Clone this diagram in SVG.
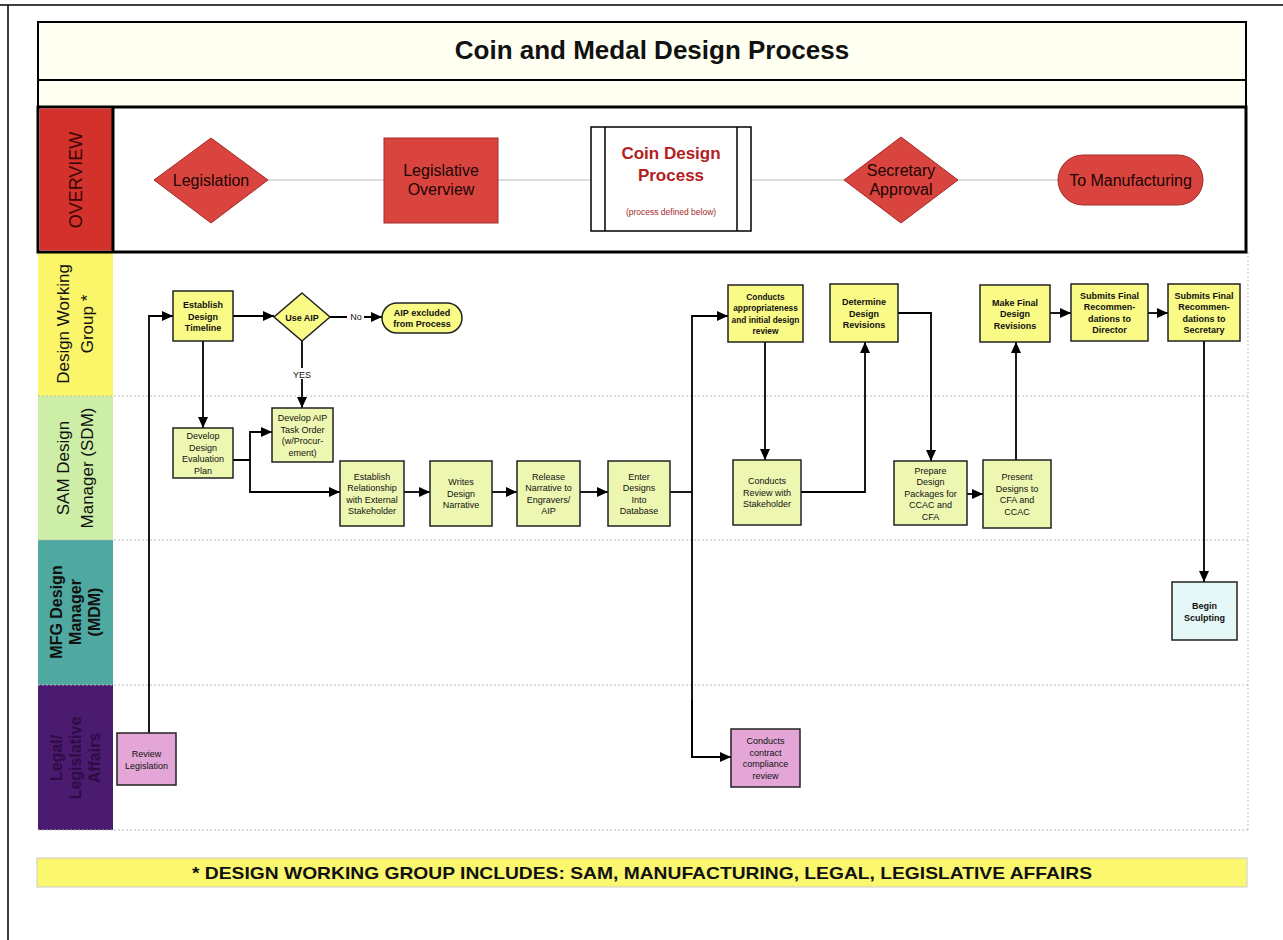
<svg xmlns="http://www.w3.org/2000/svg" width="1283" height="940" viewBox="0 0 1283 940">
<style>
text{font-family:"Liberation Sans",Arial,sans-serif;fill:#111}
.n{font-size:9px;text-anchor:middle}
.s{font-size:8.3px}
.b{font-weight:bold}
.ov{font-size:16px;text-anchor:middle;fill:#1a0505}
.lane{font-size:17px;text-anchor:middle}
.dwg{fill:#fafa86;stroke:#222;stroke-width:1.5}
.sdm{fill:#eef7b2;stroke:#222;stroke-width:1.5}
.pink{fill:#e3a6d6;stroke:#222;stroke-width:1.5}
.blue{fill:#e6f7f7;stroke:#222;stroke-width:1.5}
.red{fill:#d9443e;stroke:#a32a2a;stroke-width:1}
.sep{stroke:#bbb;stroke-width:1;stroke-dasharray:2 2;fill:none}
.c{stroke:#000;stroke-width:1.8;fill:none}
.ca{stroke:#000;stroke-width:1.8;fill:none;marker-end:url(#ah)}
</style>
<defs>
<marker id="ah" markerUnits="userSpaceOnUse" markerWidth="11" markerHeight="10" refX="11" refY="5" orient="auto"><path d="M0,0 L11,5 L0,10 z" fill="#000"/></marker>
</defs>
<rect width="1283" height="940" fill="#fff"/>
<g id="frame">
<line x1="0" y1="5" x2="1283" y2="5" stroke="#000" stroke-width="1.5"/>
<line x1="8" y1="5" x2="8" y2="940" stroke="#000" stroke-width="1.5"/>
</g>
<g id="title">
<rect x="38" y="22" width="1208" height="58" fill="#fffff2" stroke="#000" stroke-width="2"/>
<rect x="38" y="80" width="1208" height="27" fill="#fffff2" stroke="#000" stroke-width="2"/>
<text x="652" y="59" font-size="26" font-weight="bold" text-anchor="middle">Coin and Medal Design Process</text>
</g>
<g id="lanes">
<rect x="113" y="252" width="1135" height="578" fill="#fff"/>
<rect x="38" y="252" width="75" height="144" fill="#fbf56a"/>
<rect x="38" y="396" width="75" height="144" fill="#cdeea6"/>
<rect x="38" y="540" width="75" height="145" fill="#4fa9a0"/>
<rect x="38" y="685" width="75" height="145" fill="#4a1b6e"/>
<path class="sep" d="M38,396 H1248 M38,540 H1248 M38,685 H1248 M38,830 H1248 M1248,252 V830"/>
<text class="lane" transform="translate(69,324) rotate(-90)">Design Working</text>
<text class="lane" transform="translate(93,324) rotate(-90)">Group *</text>
<text class="lane" transform="translate(69,468) rotate(-90)">SAM Design</text>
<text class="lane" transform="translate(93,468) rotate(-90)">Manager (SDM)</text>
<text class="lane b" style="font-size:16px" transform="translate(62,612) rotate(-90)">MFG Design</text>
<text class="lane b" style="font-size:16px" transform="translate(81,612) rotate(-90)">Manager</text>
<text class="lane b" style="font-size:16px" transform="translate(100,612) rotate(-90)">(MDM)</text>
<text class="lane b" style="font-size:16px;fill:#2e0c46" transform="translate(62,758) rotate(-90)">Legal/</text>
<text class="lane b" style="font-size:16px;fill:#2e0c46" transform="translate(81,758) rotate(-90)">Legislative</text>
<text class="lane b" style="font-size:16px;fill:#2e0c46" transform="translate(100,758) rotate(-90)">Affairs</text>
</g>
<g id="overview">
<rect x="38" y="107" width="1208" height="145" fill="#fff" stroke="#000" stroke-width="3"/>
<rect x="39.5" y="108.5" width="73.5" height="142" fill="#d3312c"/>
<line x1="113" y1="107" x2="113" y2="252" stroke="#000" stroke-width="3"/>
<text transform="translate(82,180) rotate(-90)" font-size="18" text-anchor="middle" style="fill:#3a0505">OVERVIEW</text>
<line x1="268" y1="180" x2="1058" y2="180" stroke="#bbb" stroke-width="1"/>
</g>
<g id="ov-legislation">
<polygon class="red" points="211,138 268,180 211,223 154,180"/>
<text class="ov" x="211" y="186">Legislation</text>
</g>
<g id="ov-legislative-overview">
<rect class="red" x="384" y="138" width="114" height="85"/>
<text class="ov" x="441" y="176">Legislative</text>
<text class="ov" x="441" y="195">Overview</text>
</g>
<g id="ov-coin-design-process">
<rect x="591" y="127" width="160" height="104" fill="#fff" stroke="#000" stroke-width="1.5"/>
<line x1="605" y1="127" x2="605" y2="231" stroke="#000" stroke-width="1.5"/>
<line x1="737" y1="127" x2="737" y2="231" stroke="#000" stroke-width="1.5"/>
<text x="671" y="159" font-size="17" font-weight="bold" text-anchor="middle" style="fill:#b3201d">Coin Design</text>
<text x="671" y="181" font-size="17" font-weight="bold" text-anchor="middle" style="fill:#b3201d">Process</text>
<text x="671" y="215" font-size="8.5" text-anchor="middle" style="fill:#a52a2a">(process defined below)</text>
</g>
<g id="ov-secretary-approval">
<polygon class="red" points="901,137 958,180 901,223 844,180"/>
<text class="ov" x="901" y="176">Secretary</text>
<text class="ov" x="901" y="195">Approval</text>
</g>
<g id="ov-to-manufacturing">
<rect class="red" x="1058" y="155" width="145" height="50" rx="25"/>
<text class="ov" x="1130.5" y="186">To Manufacturing</text>
</g>
<g id="connectors">
<path class="ca" d="M149,733 V316 H173"/>
<path class="ca" d="M233,316 H274"/>
<path class="ca" d="M330,317 H382"/>
<path class="ca" d="M302,341 V408"/>
<path class="ca" d="M203,341 V428"/>
<path class="ca" d="M233,460 H250 V432 H272"/>
<path class="ca" d="M250,460 V492 H340"/>
<path class="ca" d="M404,492 H430"/>
<path class="ca" d="M492,492 H517"/>
<path class="ca" d="M580,492 H608"/>
<path class="c" d="M670,492 H692"/>
<path class="ca" d="M692,757 V316 H728"/>
<path class="ca" d="M692,700 V757 H731"/>
<path class="ca" d="M765,342 V460"/>
<path class="ca" d="M801,492 H865 V342"/>
<path class="ca" d="M898,313 H931 V461"/>
<path class="ca" d="M967,494 H983"/>
<path class="ca" d="M1016,460 V342"/>
<path class="ca" d="M1050,313 H1071"/>
<path class="ca" d="M1148,313 H1168"/>
<path class="ca" d="M1204,341 V582"/>
<rect x="347" y="311" width="17" height="11" fill="#fff"/>
<text class="n" x="356" y="320">No</text>
<rect x="290" y="368" width="24" height="11" fill="#fff"/>
<text class="n" x="302" y="378">YES</text>
</g>
<g id="n-establish-timeline">
<rect class="dwg" x="173" y="291" width="60" height="50"/>
<text class="n b" x="203" y="308">Establish</text>
<text class="n b" x="203" y="319.5">Design</text>
<text class="n b" x="203" y="331">Timeline</text>
</g>
<g id="n-use-aip">
<polygon class="dwg" points="302,293 330,317 302,341 274,317"/>
<text class="n b" x="302" y="320.5">Use AIP</text>
</g>
<g id="n-aip-excluded">
<rect class="dwg" x="382" y="303" width="80" height="30" rx="15"/>
<text class="n b" x="422" y="315.5">AIP excluded</text>
<text class="n b" x="422" y="327">from Process</text>
</g>
<g id="n-eval-plan">
<rect class="sdm" x="173" y="428" width="60" height="50"/>
<text class="n" x="203" y="439">Develop</text>
<text class="n" x="203" y="450.5">Design</text>
<text class="n" x="203" y="462">Evaluation</text>
<text class="n" x="203" y="473.5">Plan</text>
</g>
<g id="n-aip-task">
<rect class="sdm" x="272" y="408" width="61" height="54"/>
<text class="n" x="302.5" y="421">Develop AIP</text>
<text class="n" x="302.5" y="432.5">Task Order</text>
<text class="n" x="302.5" y="444">(w/Procur-</text>
<text class="n" x="302.5" y="455.5">ement)</text>
</g>
<g id="n-establish-rel">
<rect class="sdm" x="340" y="461" width="64" height="65"/>
<text class="n" x="372" y="479.5">Establish</text>
<text class="n" x="372" y="491">Relationship</text>
<text class="n" x="372" y="502.5">with External</text>
<text class="n" x="372" y="514">Stakeholder</text>
</g>
<g id="n-writes">
<rect class="sdm" x="430" y="461" width="62" height="65"/>
<text class="n" x="461" y="485">Writes</text>
<text class="n" x="461" y="496.5">Design</text>
<text class="n" x="461" y="508">Narrative</text>
</g>
<g id="n-release">
<rect class="sdm" x="517" y="461" width="63" height="65"/>
<text class="n" x="548.5" y="479.5">Release</text>
<text class="n" x="548.5" y="491">Narrative to</text>
<text class="n" x="548.5" y="502.5">Engravers/</text>
<text class="n" x="548.5" y="514">AIP</text>
</g>
<g id="n-enter">
<rect class="sdm" x="608" y="461" width="62" height="65"/>
<text class="n" x="639" y="479.5">Enter</text>
<text class="n" x="639" y="491">Designs</text>
<text class="n" x="639" y="502.5">Into</text>
<text class="n" x="639" y="514">Database</text>
</g>
<g id="n-appropriateness">
<rect class="dwg" x="728" y="285" width="75" height="57"/>
<text class="n b s" x="765.5" y="299.5">Conducts</text>
<text class="n b s" x="765.5" y="311">appropriateness</text>
<text class="n b s" x="765.5" y="322.5">and  initial design</text>
<text class="n b s" x="765.5" y="334">review</text>
</g>
<g id="n-review-stakeholder">
<rect class="sdm" x="733" y="460" width="68" height="65"/>
<text class="n" x="767" y="484">Conducts</text>
<text class="n" x="767" y="495.5">Review with</text>
<text class="n" x="767" y="507">Stakeholder</text>
</g>
<g id="n-determine">
<rect class="dwg" x="830" y="284" width="68" height="58"/>
<text class="n b" x="864" y="305">Determine</text>
<text class="n b" x="864" y="316.5">Design</text>
<text class="n b" x="864" y="328">Revisions</text>
</g>
<g id="n-prepare">
<rect class="sdm" x="894" y="461" width="73" height="64"/>
<text class="n" x="930.5" y="473.5">Prepare</text>
<text class="n" x="930.5" y="485">Design</text>
<text class="n" x="930.5" y="496.5">Packages for</text>
<text class="n" x="930.5" y="508">CCAC and</text>
<text class="n" x="930.5" y="519.5">CFA</text>
</g>
<g id="n-present">
<rect class="sdm" x="983" y="460" width="68" height="68"/>
<text class="n" x="1017" y="480">Present</text>
<text class="n" x="1017" y="491.5">Designs to</text>
<text class="n" x="1017" y="503">CFA and</text>
<text class="n" x="1017" y="514.5">CCAC</text>
</g>
<g id="n-make-final">
<rect class="dwg" x="980" y="285" width="70" height="57"/>
<text class="n b" x="1015" y="305.5">Make Final</text>
<text class="n b" x="1015" y="317">Design</text>
<text class="n b" x="1015" y="328.5">Revisions</text>
</g>
<g id="n-submit-director">
<rect class="dwg" x="1071" y="284" width="77" height="57"/>
<text class="n b" x="1109.5" y="298.5">Submits Final</text>
<text class="n b" x="1109.5" y="310">Recommen-</text>
<text class="n b" x="1109.5" y="321.5">dations to</text>
<text class="n b" x="1109.5" y="333">Director</text>
</g>
<g id="n-submit-secretary">
<rect class="dwg" x="1168" y="284" width="72" height="57"/>
<text class="n b" x="1204" y="298.5">Submits Final</text>
<text class="n b" x="1204" y="310">Recommen-</text>
<text class="n b" x="1204" y="321.5">dations to</text>
<text class="n b" x="1204" y="333">Secretary</text>
</g>
<g id="n-begin-sculpting">
<rect class="blue" x="1172" y="582" width="65" height="58"/>
<text class="n b" x="1204.5" y="609">Begin</text>
<text class="n b" x="1204.5" y="620.5">Sculpting</text>
</g>
<g id="n-review-legislation">
<rect class="pink" x="117" y="733" width="59" height="52"/>
<text class="n" x="146.5" y="757">Review</text>
<text class="n" x="146.5" y="768.5">Legislation</text>
</g>
<g id="n-contract-review">
<rect class="pink" x="731" y="729" width="69" height="58"/>
<text class="n" x="765.5" y="744">Conducts</text>
<text class="n" x="765.5" y="755.5">contract</text>
<text class="n" x="765.5" y="767">compliance</text>
<text class="n" x="765.5" y="778.5">review</text>
</g>
<g id="footnote">
<rect x="37" y="858" width="1210" height="29" fill="#fbf76e" stroke="#ccc" stroke-width="1"/>
<text x="642" y="879" font-size="17" font-weight="bold" text-anchor="middle" textLength="900" lengthAdjust="spacingAndGlyphs">* DESIGN WORKING GROUP INCLUDES: SAM, MANUFACTURING, LEGAL, LEGISLATIVE AFFAIRS</text>
</g>
</svg>
